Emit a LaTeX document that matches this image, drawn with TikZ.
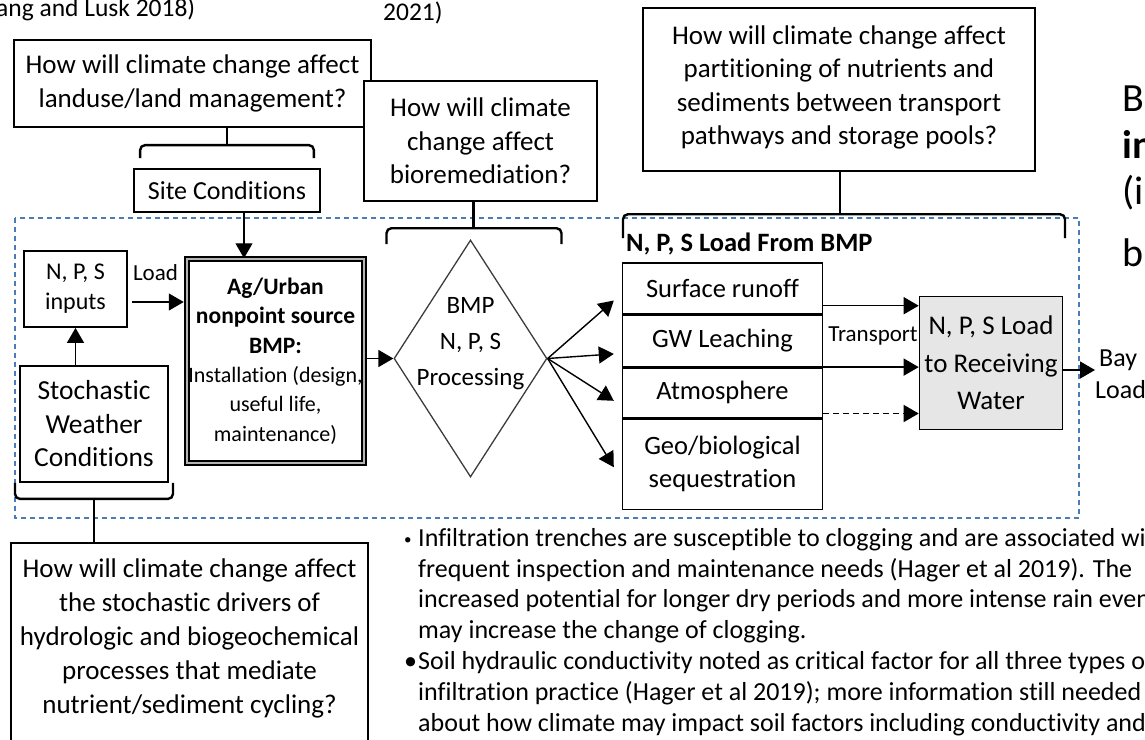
\documentclass[tikz,border=0pt]{standalone}
\usepackage{fontspec}
\setmainfont{Carlito}[Ligatures={NoCommon}]
\usetikzlibrary{positioning,arrows.meta,calc,shapes.geometric}
\definecolor{dashblue}{HTML}{4A7DB5}
\definecolor{boxgrey}{HTML}{E6E6E6}
\definecolor{dblgrey}{HTML}{B4B4B4}
\definecolor{diagrey}{HTML}{3C3C3C}
\newcommand{\fsz}[2]{\fontsize{#1}{#2}\selectfont}
\tikzset{
  qbox/.style={draw,line width=2.4pt,fill=white,align=center,inner sep=0pt,font=\fsz{27}{33.5}},
  sbox/.style={draw,line width=1.8pt,align=center,inner sep=0pt},
  stackbox/.style={draw,line width=1.4pt,minimum width=200pt,inner sep=0pt,align=center,font=\fsz{26.5}{33}},
  flow/.style={-{Triangle[length=15pt,width=17pt]},line width=1.4pt},
  brace/.style={line width=2.4pt,rounded corners=5pt},
  lbl/.style={inner sep=0pt,align=left}}

\begin{document}
\begin{tikzpicture}[x=1pt,y=-1pt]
\useasboundingbox (0,0) rectangle (1145,739);
\clip (0,0) rectangle (1145,739);

% cut-off citation text at the top
\node[lbl,anchor=base west,font=\fsz{25.5}{30}] (refa) at (-4,16) {ang and Lusk 2018)};
\node[lbl,anchor=base west,font=\fsz{25.5}{30}] (refb) at (383,20) {2021)};

% dashed BMP system boundary
\draw[dashblue,line width=1.4pt,dash pattern=on 5pt off 4pt] (15,218) rectangle (1079,518);

% question boxes
\node[qbox,minimum width=357pt,minimum height=87pt] (qland) at (192.5,83.5) {How will climate change affect\\landuse/land management?};
\node[qbox,minimum width=233pt,minimum height=120pt] (qbio) at (480.5,141) {How will climate\\change affect\\bioremediation?};
\node[qbox,minimum width=392pt,minimum height=163pt,
  label={[lbl,align=center,font=\fsz{27}{33.5},yshift=2pt]center:{How will climate change affect\\partitioning of nutrients and\\sediments between transport\\pathways and storage pools?}}] (qpart) at (839,89.5) {};
\node[align=center,inner sep=0pt,font=\fsz{27}{34},minimum width=357pt,minimum height=191pt] (qstoch) at (189.5,638.5) {How will climate change affect\\the stochastic drivers of\\hydrologic and biogeochemical\\processes that mediate\\nutrient/sediment cycling?};
\draw[line width=2.4pt] ([yshift=-40pt]qstoch.south west) |- (qstoch.north east) -- ([yshift=-40pt]qstoch.south east);

% left part of the system
\node[sbox,minimum width=186pt,minimum height=43pt,font=\fsz{26}{30}] (site) at (227,190.5) {Site Conditions};
\node[sbox,minimum width=103pt,minimum height=76pt,font=\fsz{24}{30}] (inp) at (75.5,289) {N, P, S\\inputs};
\node[lbl,font=\fsz{23}{28}] (loadlbl) at (155.5,273) {Load};
\node[sbox,minimum width=148pt,minimum height=116pt,font=\fsz{27.5}{33.5}] (stoch) at (94,424) {Stochastic\\Weather\\Conditions};
\node[draw,line width=1.5pt,double=dblgrey,double distance=2.4pt,minimum width=177pt,minimum height=204pt,
  inner sep=0pt,align=center,font=\fsz{22}{29.4}] (ag) at (275.5,361)
  {\textbf{\fsz{23.5}{29.4}Ag/Urban}\\\textbf{\fsz{23.5}{29.4}nonpoint source}\\\textbf{\fsz{23.5}{29.4}BMP:}\\Installation (design,\\useful life,\\maintenance)};
\node[diamond,draw=diagrey,line width=1.3pt,minimum width=153pt,minimum height=237pt,inner sep=0pt,
  label={[lbl,align=center,font=\fsz{25}{36},yshift=15pt]center:{BMP\\N, P, S\\Processing}}] (proc) at (470.5,358.5) {};

% load partition stack
\node[lbl,anchor=base west,font=\bfseries\fsz{26.5}{30}] (loadhdr) at (626,251) {N, P, S Load From BMP};
\node[stackbox,minimum height=51pt] (surf) at (722.5,288.5) {Surface runoff};
\node[stackbox,minimum height=51pt,below=0pt of surf] (gw) {GW Leaching};
\node[stackbox,minimum height=50pt,below=0pt of gw] (atm) {Atmosphere};
\node[stackbox,minimum height=90pt,below=0pt of atm] (geo) {Geo/biological\\sequestration};
\draw[line width=3.2pt] (geo.north west) -- (geo.north east);

\node[sbox,fill=boxgrey,line width=1.6pt,minimum width=143pt,minimum height=133pt,font=\fsz{27}{37.5}] (recv) at (991,363) {N, P, S Load\\to Receiving\\Water};
\node[lbl,font=\fsz{23}{28}] (translbl) at (873,336) {Transport};
\node[lbl,anchor=west,font=\fsz{26}{32}] (bay) at (1095,374) {\hspace*{4pt}Bay\\Load};

% cut-off text at the right edge
\node[lbl,anchor=base west,font=\fsz{40}{48}] (sidea) at (1122,111) {B};
\node[lbl,anchor=base west,font=\bfseries\fsz{40}{48}] (sideb) at (1122,158) {in};
\node[lbl,anchor=base west,font=\fsz{40}{48}] (sidec) at (1122,204) {(i};
\node[lbl,anchor=base west,font=\fsz{40}{48}] (sided) at (1122,266) {b};

% notes
\node[lbl,anchor=north west,font=\fsz{26}{30.8}] (notes) at (404,528)
  {\makebox[14pt][l]{\raisebox{2pt}{\fsz{15}{15}•}}Infiltration trenches are susceptible to clogging and are associated with\\
   \hspace*{14pt}frequent inspection and maintenance needs (Hager et al 2019). The\\
   \hspace*{14pt}increased potential for longer dry periods and more intense rain events\\
   \hspace*{14pt}may increase the change of clogging.\\
   \makebox[14pt][l]{•}Soil hydraulic conductivity noted as critical factor for all three types of\\
   \hspace*{14pt}infiltration practice (Hager et al 2019); more information still needed\\
   \hspace*{14pt}about how climate may impact soil factors including conductivity and};

% braces from the questions
\draw[brace] ([xshift=7pt,yshift=10pt]site.north west) |- ([yshift=23pt]site.north) -| ([xshift=-7pt,yshift=10pt]site.north east);
\draw[brace] (qland.south -| site.north) -- ([yshift=23pt]site.north);
\draw[brace] ([xshift=-94pt,yshift=-42pt]qbio.south) |- ([xshift=-7pt,yshift=-26pt]qbio.south) -| ([xshift=81pt,yshift=-42pt]qbio.south);
\draw[brace] ([xshift=-7pt]qbio.south) -- ([xshift=-7pt,yshift=-26pt]qbio.south);
\draw[brace] ([xshift=-216pt,yshift=-66pt]qpart.south) |- ([xshift=1pt,yshift=-42pt]qpart.south) -| ([xshift=226pt,yshift=-66pt]qpart.south);
\draw[brace] ([xshift=1pt]qpart.south) -- ([xshift=1pt,yshift=-42pt]qpart.south);
\draw[brace] ([xshift=-79pt]stoch.south) |- ([yshift=-16pt]stoch.south) -| ([xshift=79pt]stoch.south);
\draw[brace] ([yshift=-16pt]stoch.south) -- (stoch.south |- qstoch.north);

% flows
\draw[flow] ([xshift=17pt]site.south) -- ([xshift=17pt]site.south |- ag.north);
\draw[flow,shorten <=4pt,shorten >=2.5pt] ([yshift=-13pt]inp.east) -- ([yshift=-13pt]inp.east -| ag.west);
\draw[flow] (inp.south |- stoch.north) -- (inp.south);
\draw[flow,shorten <=2.5pt] (ag.east |- proc.west) -- (proc.west);
\draw[flow] (proc.east) -- ($(surf.west)+(-8,12)$);
\draw[flow] (proc.east) -- ($(gw.west)+(-8,13)$);
\draw[flow] (proc.east) -- ($(atm.west)+(-8,8)$);
\draw[flow] (proc.east) -- ($(geo.west)+(-8,3)$);
\draw[flow] ([yshift=9pt]surf.south east) -- ([yshift=9pt]surf.south east -| recv.west);
\draw[flow] (gw.south east) -- (gw.south east -| recv.west);
\draw[flow,dash pattern=on 6pt off 4pt] ([yshift=5pt]atm.south east) -- ([yshift=5pt]atm.south east -| recv.west);
\draw[flow] ([yshift=-7pt]recv.east) -- ([yshift=-7pt]recv.east -| bay.west);
\end{tikzpicture}
\end{document}
